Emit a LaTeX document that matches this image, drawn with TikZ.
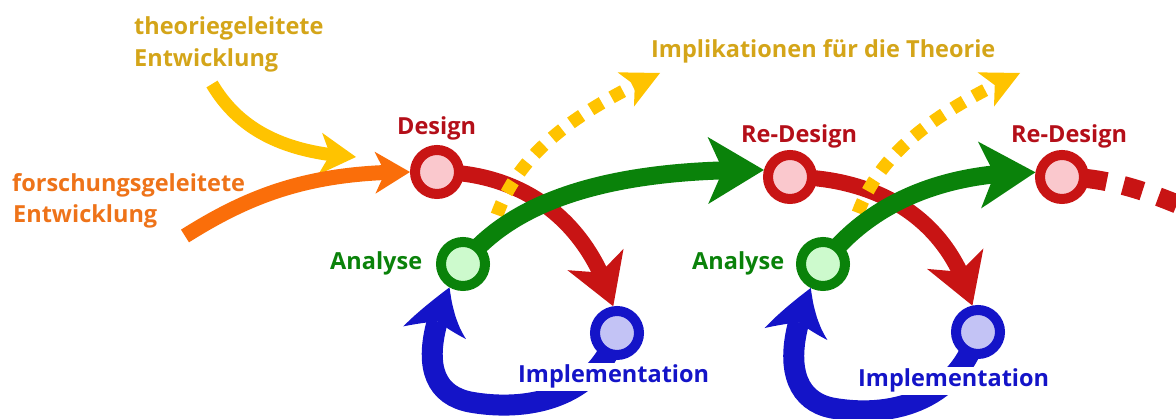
\documentclass[tikz,border=0pt]{standalone}
\usepackage{fontspec}
\setmainfont{Open Sans}
\usetikzlibrary{arrows.meta,bending}
\pgfdeclarelayer{bg}
\pgfsetlayers{bg,main}

\definecolor{ringred}{RGB}{200,20,20}
\definecolor{fillred}{RGB}{250,200,205}
\definecolor{textred}{RGB}{180,15,25}
\definecolor{ringgreen}{RGB}{10,130,10}
\definecolor{fillgreen}{RGB}{205,250,205}
\definecolor{ringblue}{RGB}{20,20,200}
\definecolor{fillblue}{RGB}{195,195,245}
\definecolor{tipyellow}{RGB}{255,195,0}
\definecolor{textmustard}{RGB}{212,165,25}
\definecolor{tiporange}{RGB}{250,110,10}
\definecolor{textorange}{RGB}{238,115,25}

\tikzset{
  ring/.style={circle, minimum size=44pt, inner sep=0pt, line width=10pt},
  redring/.style={ring, draw=ringred, fill=fillred},
  greenring/.style={ring, draw=ringgreen, fill=fillgreen},
  bluering/.style={ring, draw=ringblue, fill=fillblue},
  lab/.style={inner sep=0pt, anchor=base west,
    font=\fontsize{23.5}{32}\selectfont\bfseries},
  boxedlab/.style={lab, fill=white, inner xsep=1pt, inner ysep=2pt},
  redarrow/.style={draw=ringred, line width=16pt,
    -{Stealth[length=50pt, width=60pt, inset=14pt, line width=0pt]}},
  greenarrow/.style={draw=ringgreen, line width=18pt,
    -{Stealth[length=56pt, width=67pt, inset=15pt, line width=0pt]}},
  bluearrow/.style={draw=ringblue, line width=21pt,
    -{Stealth[length=54pt, width=64pt, inset=15pt, line width=0pt, bend]}},
  theoryarrow/.style={draw=tipyellow, line width=13pt,
    -{Stealth[length=36pt, width=42pt, inset=10pt, line width=0pt]}},
  researcharrow/.style={draw=tiporange, line width=15pt,
    -{Stealth[length=35pt, width=42pt, inset=10pt, line width=0pt]}},
  implarrow/.style={draw=tipyellow, line width=13pt,
    dash pattern=on 13pt off 11pt,
    -{Stealth[length=38pt, width=38pt, inset=10pt, line width=0pt]}},
  reddash/.style={draw=ringred, line width=19pt,
    dash pattern=on 45pt off 17pt on 20pt off 17pt on 20pt off 40pt},
}

\begin{document}
\begin{tikzpicture}[x=1pt, y=-1pt]
\useasboundingbox (0,0) rectangle (1176,419);

% stations of the cycle
\node[redring]   (des)  at (437,172) {};
\node[greenring] (ana1) at (463,264) {};
\node[bluering]  (imp1) at (617,333) {};
\node[redring]   (rd1)  at (790,177) {};
\node[greenring] (ana2) at (823,264) {};
\node[bluering]  (imp2) at (978,332) {};
\node[redring]   (rd2)  at (1062,177) {};

% free ends of the connectors
\coordinate (thstart) at (212,84);
\coordinate (thend) at (356,157);
\coordinate (fostart) at (185,236);
\coordinate (im1start) at (497,215);
\coordinate (im1end) at (660,73);
\coordinate (im2start) at (858,213);
\coordinate (im2end) at (1020,73);
\coordinate (bl1) at (470,402);
\coordinate (bl2) at (832,408);
\coordinate (rdend) at (1200,214);

% labels
\node[lab, text=textmustard] (lth1) at (134,35) {theoriegeleitete};
\node[lab, text=textmustard] (lth2) at (134,67) {Entwicklung};
\node[lab, text=textorange] (lfo1) at (12,192) {forschungsgeleitete};
\node[lab, text=textorange] (lfo2) at (13,223) {Entwicklung};
\node[lab, text=textmustard] (lim) at (651,58) {Implikationen für die Theorie};
\node[lab, text=textred] (ldes) at (397,135) {Design};
\node[lab, text=textred] (lrd1) at (741,143) {Re-Design};
\node[lab, text=textred] (lrd2) at (1011,143) {Re-Design};
\node[lab, text=ringgreen] (lan1) at (330,270) {Analyse};
\node[lab, text=ringgreen] (lan2) at (692,270) {Analyse};
\node[boxedlab, text=ringblue] (lip1) at (517,383) {Implementation};
\node[boxedlab, text=ringblue] (lip2) at (857,387) {Implementation};

\begin{pgfonlayer}{bg}
  % entry into the first design
  \draw[theoryarrow] (thstart) .. controls (238,128) and (282,153) .. (thend);
  \draw[researcharrow] (fostart) .. controls (250,195) and (310,172) .. (des.west);

  % design -> implementation
  \draw[redarrow] (des.center) .. controls +(70,0) and +(-30,-100) .. (imp1.98);
  \draw[redarrow] (rd1.center) .. controls +(70,0) and +(-27,-100) .. (imp2.102);
  \draw[reddash] (rd2.center) .. controls +(50,0) and +(-40,-18) .. (rdend);

  % implications for theory
  \draw[implarrow] (im1start) .. controls (520,150) and (580,110) .. (im1end);
  \draw[implarrow] (im2start) .. controls (881,150) and (940,110) .. (im2end);

  % analysis -> re-design
  \draw[greenarrow] (ana1.center) .. controls (505,210) and (590,168) .. (rd1.165);
  \draw[greenarrow] (ana2.center) .. controls (862,212) and (930,172) .. (rd2.170);

  % implementation -> analysis
  \draw[bluearrow] (imp1.center) .. controls +(-22,67) and +(55,10) .. (bl1)
    .. controls +(-40,-8) and +(-30,70) .. (ana1.-120);
  \draw[bluearrow] (imp2.center) .. controls +(-22,72) and +(55,10) .. (bl2)
    .. controls +(-40,-8) and +(-30,70) .. (ana2.-117);
\end{pgfonlayer}
\end{tikzpicture}
\end{document}
